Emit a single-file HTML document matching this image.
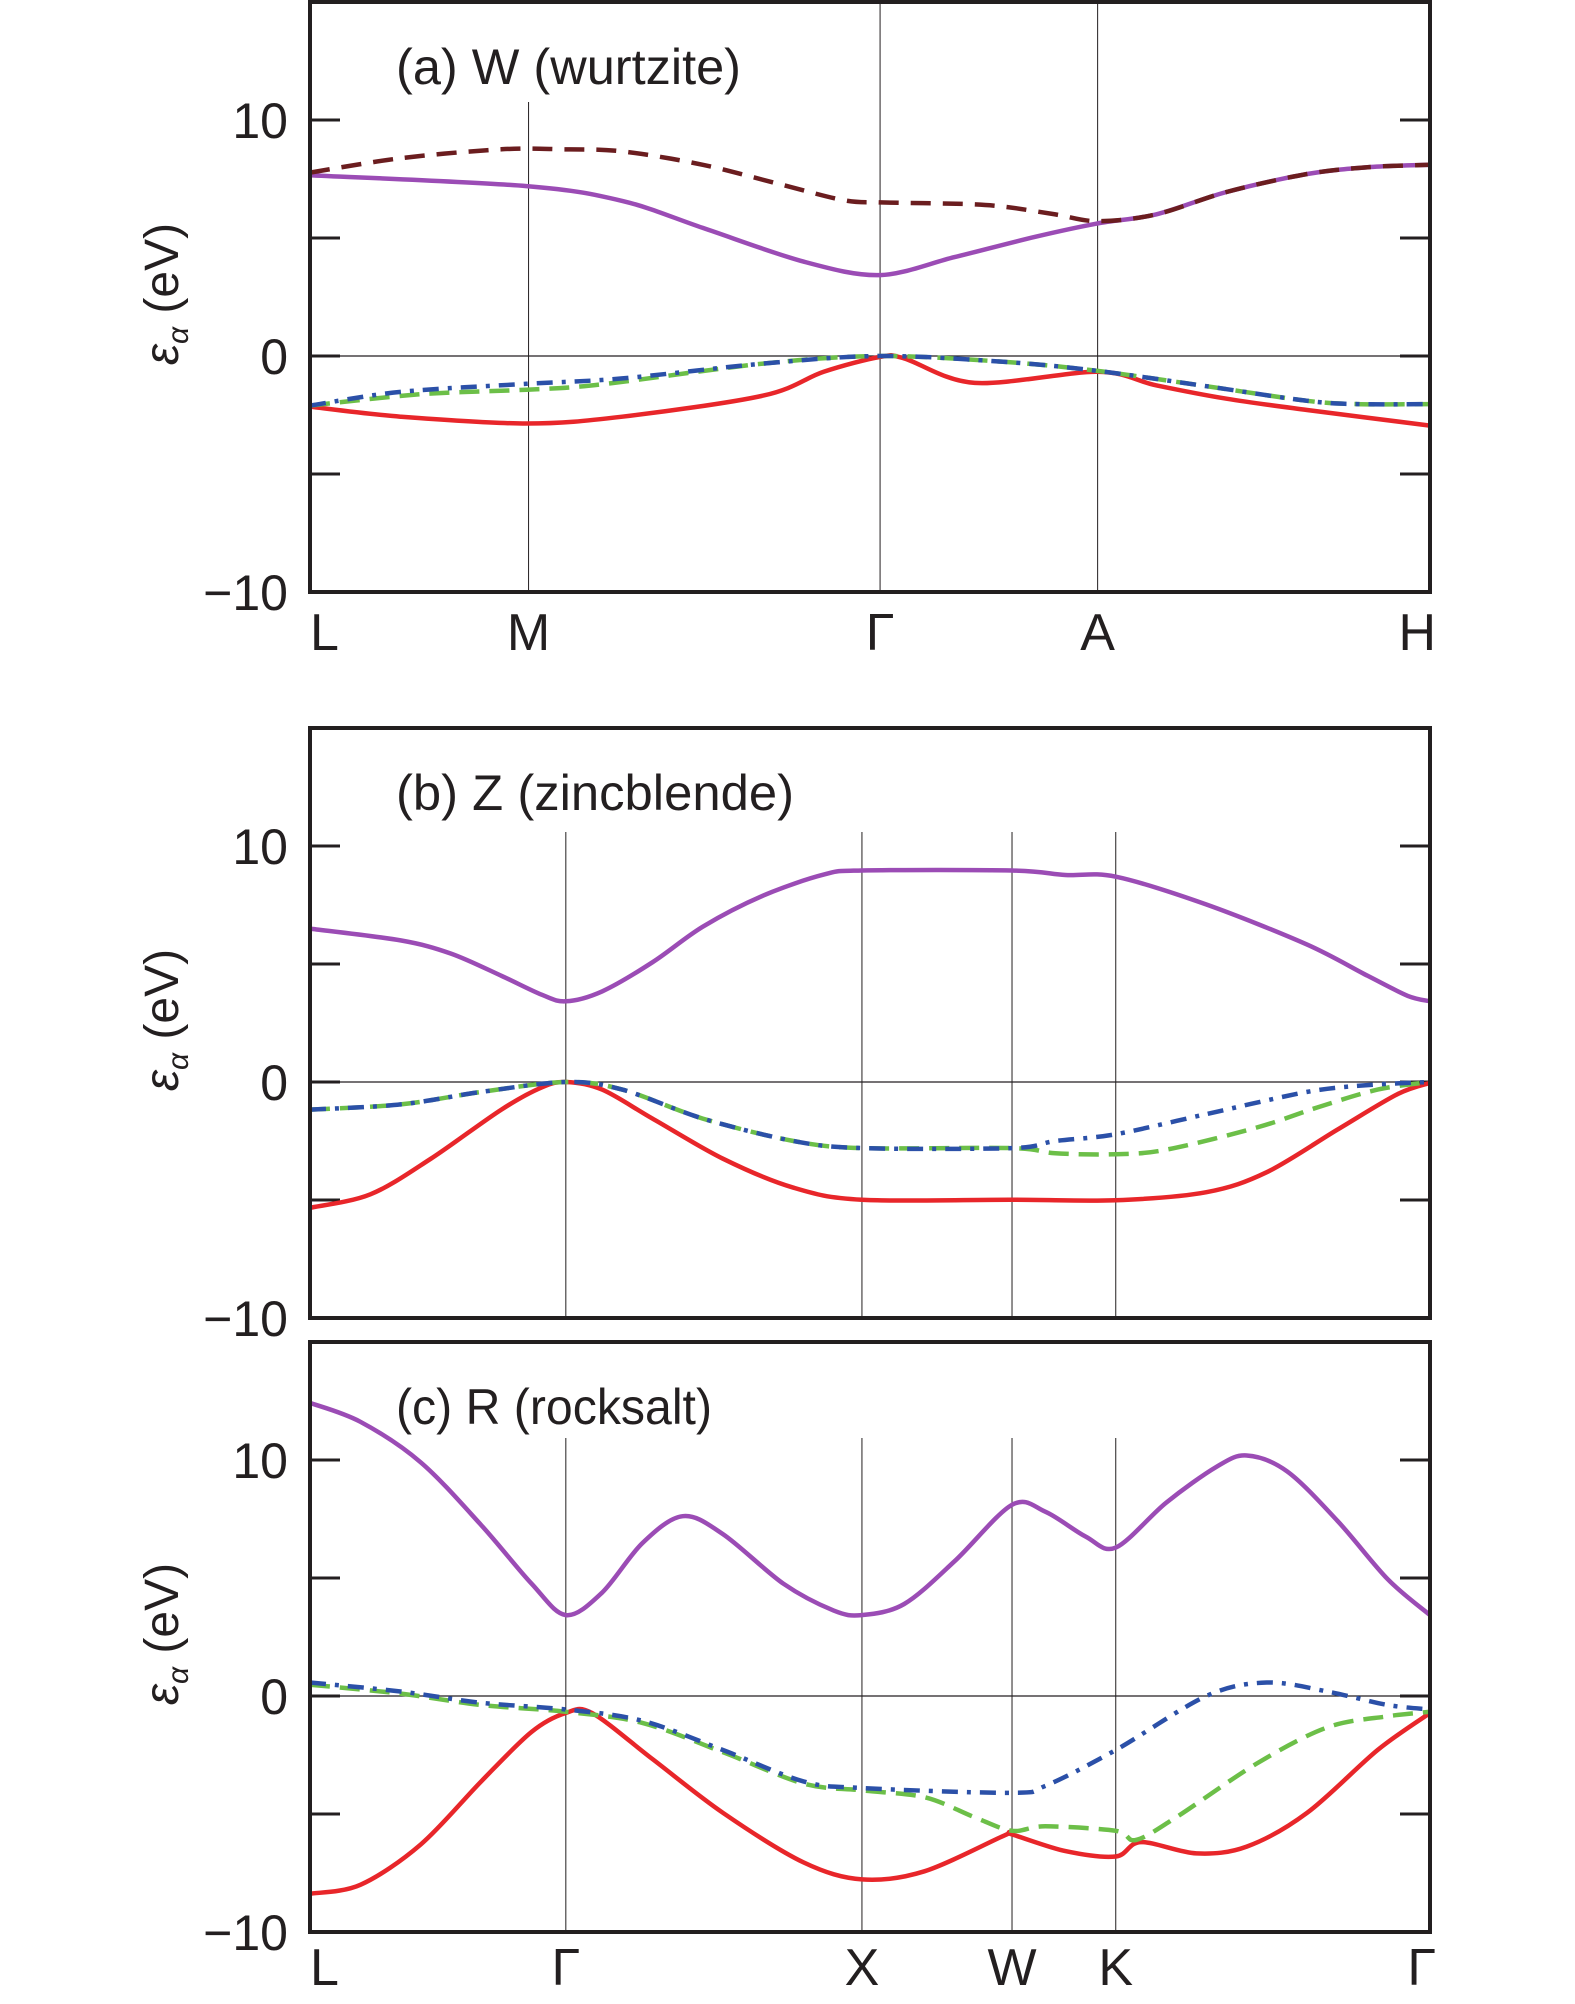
<!DOCTYPE html>
<html><head><meta charset="utf-8">
<style>
html,body{margin:0;padding:0;background:#fff;}
svg{display:block;}
text{font-family:"Liberation Sans",sans-serif;fill:#231f20;}
</style></head>
<body>
<svg id="chart" width="1575" height="2004" viewBox="0 0 1575 2004" xmlns="http://www.w3.org/2000/svg"></svg>
<script>
// ---- Panel (a) wurtzite data: k-path coordinate (0..1112) and energies (eV)
const aSymK = [0, 217, 566, 782, 1112];
const aSymLabels = ["L", "M", "Γ", "A", "H"];
const aPurpleK = [0, 215, 310, 390, 490, 566, 640, 720, 782, 840, 910, 990, 1050, 1112];
const aPurpleE = [7.66, 7.2, 6.57, 5.43, 4.0, 3.43, 4.19, 5.05, 5.62, 6.0, 6.95, 7.71, 8.0, 8.1];
const aDarkK = [0, 90, 190, 250, 310, 390, 470, 530, 566, 650, 690, 740, 782, 840, 910, 990, 1050, 1112];
const aDarkE = [7.77, 8.38, 8.76, 8.76, 8.67, 8.1, 7.24, 6.6, 6.51, 6.44, 6.32, 6.0, 5.71, 6.0, 6.95, 7.71, 8.0, 8.1];
const aRedK = [0, 90, 215, 310, 450, 510, 566, 590, 660, 782, 840, 910, 990, 1112];
const aRedE = [-2.15, -2.57, -2.86, -2.57, -1.68, -0.67, -0.04, -0.1, -1.14, -0.67, -1.24, -1.81, -2.29, -2.95];
const aBlueK = [0, 90, 215, 310, 450, 566, 690, 782, 890, 990, 1040, 1112];
const aBlueE = [-2.1, -1.52, -1.18, -0.95, -0.32, 0, -0.25, -0.63, -1.28, -1.9, -2.04, -2.04];
const aGreenK = [0, 110, 215, 290, 450, 566, 690, 782, 890, 990, 1040, 1112];
const aGreenE = [-2.1, -1.62, -1.43, -1.2, -0.32, 0, -0.25, -0.63, -1.28, -1.9, -2.04, -2.04];

// ---- Panel (b) zincblende
const bSymK = [0, 254, 548, 697, 800, 1112];
const bSymLabels = ["L", "Γ", "X", "W", "K", "Γ"];
const bPurpleK = [0, 90, 140, 190, 230, 254, 290, 340, 390, 450, 510, 548, 697, 750, 800, 890, 990, 1050, 1090, 1112];
const bPurpleE = [6.5, 6.0, 5.44, 4.5, 3.7, 3.42, 3.84, 5.07, 6.58, 7.9, 8.79, 8.96, 8.96, 8.77, 8.7, 7.52, 5.82, 4.5, 3.65, 3.42];
const bRedK = [0, 60, 120, 190, 230, 254, 290, 340, 410, 480, 548, 697, 800, 890, 950, 1020, 1080, 1112];
const bRedE = [-5.33, -4.76, -3.25, -1.17, -0.23, 0, -0.32, -1.55, -3.25, -4.48, -4.99, -4.99, -5.01, -4.67, -3.82, -2.02, -0.51, -0.04];
const bBlueK = [0, 90, 170, 254, 310, 390, 480, 548, 697, 740, 800, 890, 990, 1050, 1112];
const bBlueE = [-1.17, -0.95, -0.42, 0, -0.32, -1.55, -2.5, -2.8, -2.8, -2.5, -2.21, -1.36, -0.42, -0.13, 0];
const bGreenK = [0, 90, 170, 254, 310, 390, 480, 548, 697, 740, 800, 850, 940, 1000, 1060, 1112];
const bGreenE = [-1.17, -0.95, -0.42, 0, -0.32, -1.55, -2.5, -2.8, -2.8, -3.02, -3.06, -2.87, -1.93, -1.08, -0.32, 0];

// ---- Panel (c) rocksalt
const cSymK = [0, 254, 548, 697, 800, 1112];
const cSymLabels = ["L", "Γ", "X", "W", "K", "Γ"];
const cPurpleK = [0, 50, 110, 170, 220, 254, 290, 330, 370, 410, 470, 520, 548, 590, 640, 697, 730, 770, 800, 850, 900, 930, 970, 1020, 1070, 1112];
const cPurpleE = [12.42, 11.62, 9.9, 7.24, 4.76, 3.43, 4.38, 6.48, 7.62, 6.86, 4.76, 3.62, 3.43, 3.9, 5.71, 8.1, 7.81, 6.76, 6.29, 8.19, 9.71, 10.19, 9.52, 7.43, 4.95, 3.43];
const cRedK = [0, 50, 110, 170, 220, 254, 280, 340, 410, 490, 548, 610, 690, 697, 750, 800, 825, 880, 930, 990, 1060, 1112];
const cRedE = [-8.38, -8.0, -6.29, -3.62, -1.52, -0.72, -0.72, -2.67, -4.95, -7.05, -7.77, -7.43, -5.9, -5.87, -6.57, -6.8, -6.19, -6.67, -6.38, -4.95, -2.29, -0.72];
const cBlueK = [0, 90, 170, 254, 330, 410, 490, 548, 697, 730, 800, 890, 950, 1010, 1070, 1112];
const cBlueE = [0.57, 0.19, -0.29, -0.57, -1.05, -2.29, -3.62, -3.9, -4.1, -3.81, -2.29, 0, 0.57, 0.19, -0.38, -0.57];
const cGreenK = [0, 90, 170, 254, 330, 410, 490, 548, 610, 660, 697, 730, 800, 820, 860, 940, 1010, 1070, 1112];
const cGreenE = [0.48, 0.1, -0.38, -0.67, -1.14, -2.38, -3.71, -4.0, -4.29, -5.14, -5.71, -5.52, -5.71, -6.1, -5.14, -2.86, -1.33, -0.86, -0.67];

const yTicks = [10, 0, -10];
const yMinorTicks = [10, 5, 0, -5];

const NS = "http://www.w3.org/2000/svg";
const svg = document.getElementById("chart");
const K_MAX = 1112, Y_MIN = -10, Y_MAX = 15;
const COL = {purple:"#9b4cb5", dark:"#6b1d1f", red:"#e8262a", blue:"#2b50a8", green:"#6cbf48"};

function mk(tag, attrs, parent) {
  const e = document.createElementNS(NS, tag);
  for (const k in attrs) e.setAttribute(k, attrs[k]);
  (parent || svg).appendChild(e);
  return e;
}

function smoothPath(pts) {
  let d = "M" + pts[0][0].toFixed(1) + "," + pts[0][1].toFixed(1);
  for (let i = 0; i < pts.length - 1; i++) {
    const p0 = pts[Math.max(0, i - 1)], p1 = pts[i], p2 = pts[i + 1], p3 = pts[Math.min(pts.length - 1, i + 2)];
    const t = 0.16;
    const c1x = p1[0] + (p2[0] - p0[0]) * t, c1y = p1[1] + (p2[1] - p0[1]) * t;
    const c2x = p2[0] - (p3[0] - p1[0]) * t, c2y = p2[1] - (p3[1] - p1[1]) * t;
    d += " C" + c1x.toFixed(1) + "," + c1y.toFixed(1) + " " + c2x.toFixed(1) + "," + c2y.toFixed(1) + " " + p2[0].toFixed(1) + "," + p2[1].toFixed(1);
  }
  return d;
}

function panel(cfg) {
  const L = 310, R = 1430, T = cfg.top, B = cfg.top + 590;
  const xs = k => L + (k / K_MAX) * (R - L);
  const ys = e => B - (e - Y_MIN) / (Y_MAX - Y_MIN) * (B - T);
  const g = mk("g", {});
  
  

  // vertical symmetry lines
  cfg.symK.forEach((k, i) => {
    if (i === 0 || i === cfg.symK.length - 1) return;
    const ln = mk("line", {x1: xs(k), x2: xs(k), y1: cfg.gridTop(k, i, T), y2: B, stroke: "#231f20", "stroke-width": 1}, g);
    
    
  });
  // zero line
  const z = mk("line", {x1: L, x2: R, y1: ys(0), y2: ys(0), stroke: "#231f20", "stroke-width": 1.2}, g);
  
  

  // ticks
  yMinorTicks.forEach(v => {
    const t1 = mk("line", {x1: L, x2: L + 30, y1: ys(v), y2: ys(v), stroke: "#231f20", "stroke-width": 3}, g);
    
    
    const t2 = mk("line", {x1: R - 30, x2: R, y1: ys(v), y2: ys(v), stroke: "#231f20", "stroke-width": 3}, g);
    
    
  });
  yTicks.forEach(v => {
    const tx = mk("text", {x: 288, y: ys(v) + 18, "text-anchor": "end", "font-size": 50}, g);
    tx.textContent = v < 0 ? "\u2212" + Math.abs(v) : String(v);
    
    
  });

  // bands
  const bands = [
    ["purple", cfg.purpleK, cfg.purpleE, COL.purple, null, 4.5],
    ["dark", cfg.darkK, cfg.darkE, COL.dark, "20 12", 4.5],
    ["red", cfg.redK, cfg.redE, COL.red, null, 4.5],
    ["green", cfg.greenK, cfg.greenE, COL.green, "20 10", 4.5],
    ["blue", cfg.blueK, cfg.blueE, COL.blue, "16 9 4 9", 4.5]
  ];
  bands.forEach(([nm, ks, es, col, dash, w]) => {
    if (!ks) return;
    const pts = ks.map((k, i) => [xs(k), ys(es[i])]);
    const p = mk("path", {d: smoothPath(pts), fill: "none", stroke: col, "stroke-width": w, "stroke-linejoin": "round"}, g);
    if (dash) p.setAttribute("stroke-dasharray", dash);
    
    
  });

  // frame
  const fr = mk("rect", {x: L, y: T, width: R - L, height: B - T, fill: "none", stroke: "#231f20", "stroke-width": 4}, g);
  
  

  // title
  const ti = mk("text", {x: 396, y: T + 82, "font-size": 50, textLength: cfg.titleLen, lengthAdjust: "spacingAndGlyphs"}, g);
  ti.textContent = cfg.title;
  
  

  // y-axis title
  const cy = ys(0) - 62;
  const yt = mk("text", {x: 0, y: 0, "font-size": 48, "text-anchor": "middle", transform: "translate(178," + cy + ") rotate(-90)"}, g);
  
  
  const s1 = mk("tspan", {"font-style": "italic"}, yt); s1.textContent = "ε";
  const s2 = mk("tspan", {"font-style": "italic", "font-size": 30, dy: 10}, yt); s2.textContent = "α";
  const s3 = mk("tspan", {dy: -10}, yt); s3.textContent = " (eV)";

  // x labels
  if (cfg.xLabelY) {
    cfg.symK.forEach((k, i) => {
      let anchor = "middle", x = xs(k);
      if (i === 0) { anchor = "start"; x = L; }
      if (i === cfg.symK.length - 1) { anchor = "end"; x = R + 6; }
      const xl = mk("text", {x: x, y: cfg.xLabelY, "font-size": 52, "text-anchor": anchor}, g);
      xl.textContent = cfg.symLabels[i];
      
      
    });
  }
}

panel({name: "panel-a-wurtzite", top: 2, symK: aSymK, symLabels: aSymLabels,
  purpleK: aPurpleK, purpleE: aPurpleE, darkK: aDarkK, darkE: aDarkE, redK: aRedK, redE: aRedE,
  blueK: aBlueK, blueE: aBlueE, greenK: aGreenK, greenE: aGreenE,
  title: "(a) W (wurtzite)", titleLen: 345, xLabelY: 650,
  gridTop: (k, i, T) => i === 1 ? T + 100 : T});
panel({name: "panel-b-zincblende", top: 728, symK: bSymK, symLabels: bSymLabels,
  purpleK: bPurpleK, purpleE: bPurpleE, redK: bRedK, redE: bRedE,
  blueK: bBlueK, blueE: bBlueE, greenK: bGreenK, greenE: bGreenE,
  title: "(b) Z (zincblende)", titleLen: 398, xLabelY: null,
  gridTop: (k, i, T) => T + 104});
panel({name: "panel-c-rocksalt", top: 1342, symK: cSymK, symLabels: cSymLabels,
  purpleK: cPurpleK, purpleE: cPurpleE, redK: cRedK, redE: cRedE,
  blueK: cBlueK, blueE: cBlueE, greenK: cGreenK, greenE: cGreenE,
  title: "(c) R (rocksalt)", titleLen: 316, xLabelY: 1985,
  gridTop: (k, i, T) => T + 96});
</script>
</body></html>
